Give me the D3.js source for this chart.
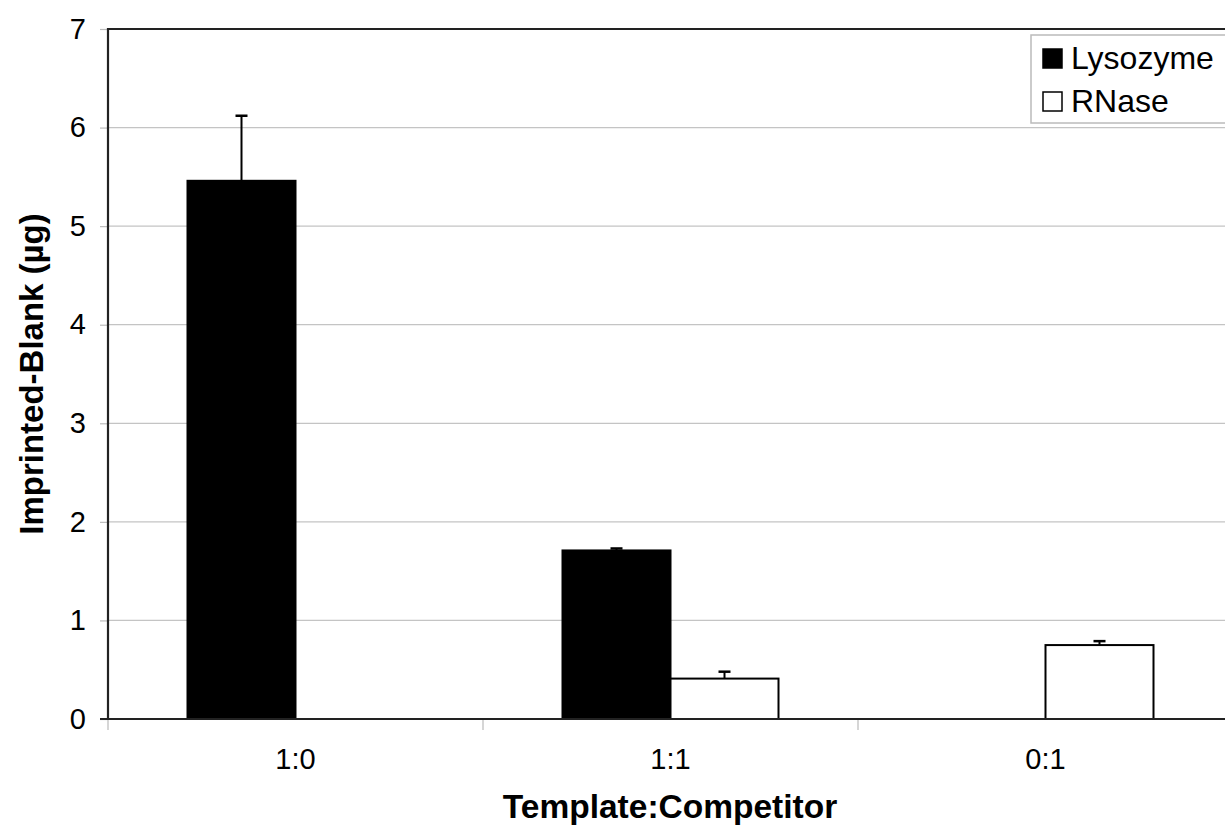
<!DOCTYPE html>
<html>
<head>
<meta charset="utf-8">
<script src="https://cdn.jsdelivr.net/npm/d3@7"></script>
<style>
  html, body { margin: 0; padding: 0; background: #fff; }
  svg { display: block; font-family: "Liberation Sans", Arial, sans-serif; }
</style>
</head>
<body>
<svg id="chart" width="1225" height="833"></svg>
<script>
// ---- Data ----
const categories = ["1:0", "1:1", "0:1"];
const seriesNames = ["Lysozyme", "RNase"];
const lysozyme = [5.46, 1.71, 0];
const lysozymeErr = [0.66, 0.02, 0];
const rnase = [0, 0.41, 0.75];
const rnaseErr = [0, 0.07, 0.04];
const yTicks = [0, 1, 2, 3, 4, 5, 6, 7];
const xTitle = "Template:Competitor";
const yTitle = "Imprinted-Blank (µg)";

const seriesValues = [lysozyme, rnase];
const seriesErrors = [lysozymeErr, rnaseErr];
const seriesFill = ["#000000", "#ffffff"];

// ---- Layout ----
const W = 1225, H = 833;
const mLeft = 108, mTop = 29, mBottom = 719, mRight = 1233;

const svg = d3.select("#chart");

const x = d3.scaleBand().domain(categories).range([mLeft, mRight]).paddingInner(0).paddingOuter(0);
const bandInner = x.bandwidth() * 0.576; // group width
const xs = d3.scaleBand().domain(seriesNames).range([0, bandInner]).padding(0);
const y = d3.scaleLinear().domain([0, 7]).range([mBottom, mTop]);

// gridlines
svg.append("g").selectAll("line").data(yTicks.filter(d => d > 0 && d < 7)).join("line")
  .attr("x1", mLeft).attr("x2", W)
  .attr("y1", d => y(d)).attr("y2", d => y(d))
  .attr("stroke", "#c4c4c4").attr("stroke-width", 1.2);

// top border
svg.append("line").attr("x1", mLeft).attr("x2", W).attr("y1", y(7)).attr("y2", y(7))
  .attr("stroke", "#222").attr("stroke-width", 2);

// bars
const groupOffset = (x.bandwidth() - bandInner) / 2;
seriesNames.forEach((s, si) => {
  const g = svg.append("g");
  categories.forEach((c, ci) => {
    const v = seriesValues[si][ci];
    if (v <= 0) return;
    const x0 = x(c) + groupOffset + xs(s);
    g.append("rect")
      .attr("x", x0).attr("y", y(v))
      .attr("width", xs.bandwidth()).attr("height", y(0) - y(v))
      .attr("fill", seriesFill[si]).attr("stroke", "#000").attr("stroke-width", 2);
    const e = seriesErrors[si][ci];
    if (e > 0) {
      const cx = x0 + xs.bandwidth() / 2;
      g.append("line").attr("x1", cx).attr("x2", cx).attr("y1", y(v)).attr("y2", y(v + e))
        .attr("stroke", "#000").attr("stroke-width", 2);
      g.append("line").attr("x1", cx - 6).attr("x2", cx + 6).attr("y1", y(v + e)).attr("y2", y(v + e))
        .attr("stroke", "#000").attr("stroke-width", 2.5);
    }
  });
});

// y axis
const yAxis = d3.axisLeft(y).tickValues(yTicks).tickSize(8).tickPadding(14).tickFormat(d3.format("d"));
const gy = svg.append("g").attr("transform", `translate(${mLeft},0)`).call(yAxis);
gy.select(".domain").remove();
gy.selectAll(".tick line").attr("stroke", "#bbb").attr("stroke-width", 1.2);
gy.selectAll(".tick text").attr("font-size", 29).attr("fill", "#000")
  .attr("font-family", "Liberation Sans, Arial, sans-serif");
svg.append("line").attr("x1", mLeft).attr("x2", mLeft).attr("y1", mTop - 1).attr("y2", mBottom + 1)
  .attr("stroke", "#222").attr("stroke-width", 2.2);

// x axis
const xBounds = categories.map(c => x(c));
svg.append("g").selectAll("line").data(xBounds).join("line")
  .attr("x1", d => d).attr("x2", d => d).attr("y1", mBottom).attr("y2", mBottom + 11)
  .attr("stroke", "#bbb").attr("stroke-width", 1.2);
svg.append("line").attr("x1", mLeft - 8).attr("x2", W).attr("y1", mBottom).attr("y2", mBottom)
  .attr("stroke", "#222").attr("stroke-width", 2.2);
svg.append("g").selectAll("text").data(categories).join("text")
  .attr("x", d => x(d) + x.bandwidth() / 2).attr("y", 769)
  .attr("text-anchor", "middle").attr("font-size", 29).attr("fill", "#000")
  .text(d => d);

// axis titles
svg.append("text").attr("x", 670).attr("y", 818).attr("text-anchor", "middle")
  .attr("font-size", 33.5).attr("font-weight", "bold").text(xTitle);
svg.append("text").attr("transform", `translate(43,${(mTop + mBottom) / 2}) rotate(-90)`)
  .attr("text-anchor", "middle").attr("font-size", 33).attr("font-weight", "bold").text(yTitle);

// legend
const lg = svg.append("g");
lg.append("rect").attr("x", 1031).attr("y", 35).attr("width", 220).attr("height", 88)
  .attr("fill", "#fff").attr("stroke", "#bbb").attr("stroke-width", 1.5);
seriesNames.forEach((s, i) => {
  const yy = 49 + i * 43;
  lg.append("rect").attr("x", 1043).attr("y", yy).attr("width", 19).attr("height", 19)
    .attr("fill", seriesFill[i]).attr("stroke", "#000").attr("stroke-width", 1.5);
  lg.append("text").attr("x", 1071).attr("y", yy + 20).attr("font-size", 32).attr("fill", "#000").text(s);
});
</script>
</body>
</html>
